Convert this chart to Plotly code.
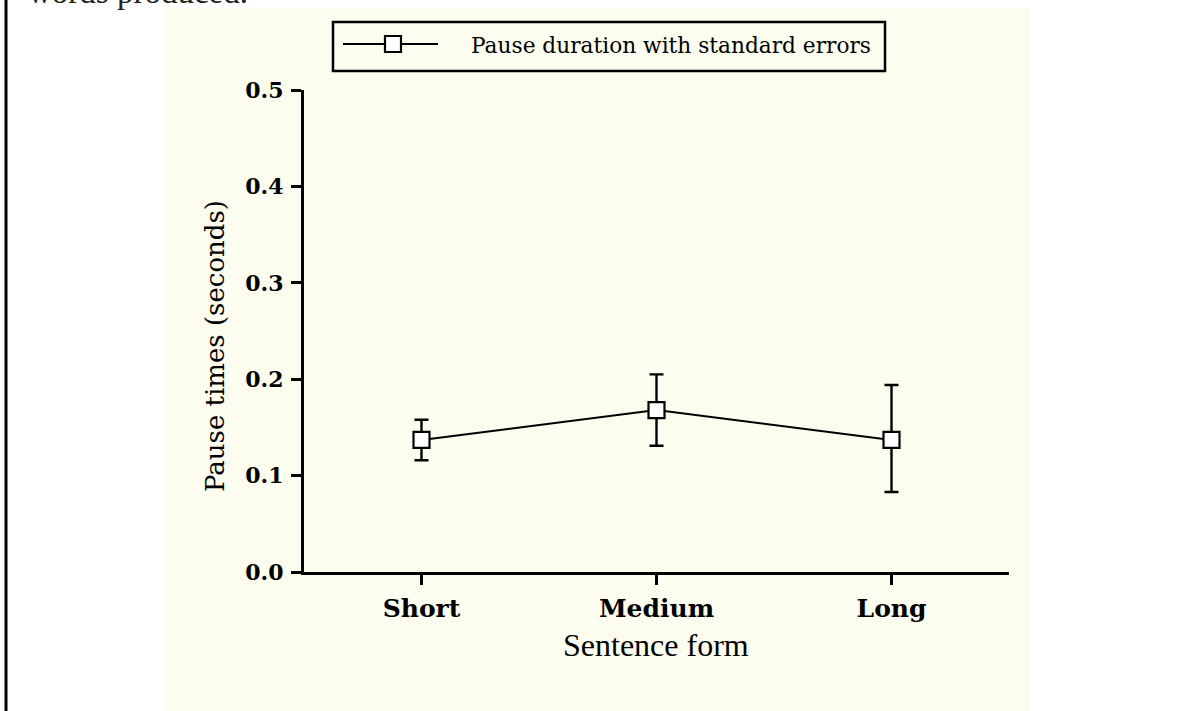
import plotly.graph_objects as go

# ---- data ----
categories = ["Short", "Medium", "Long"]
pause_mean = [0.137, 0.168, 0.137]
err_plus = [0.021, 0.037, 0.057]
err_minus = [0.021, 0.037, 0.054]
y_ticks = [0.0, 0.1, 0.2, 0.3, 0.4, 0.5]
legend_label = "Pause duration with standard errors"

W, H = 1180, 711
L, R, T, B = 304, 1009, 90, 572  # plot area in pixels
PW, PH = R - L, B - T

def px(x):
    return (x - L) / PW

def py(y):
    return (B - y) / PH

PANEL = "#FCFDEF"
SERIF = "DejaVu Serif"

fig = go.Figure()
fig.add_trace(go.Scatter(
    x=list(range(len(categories))),
    y=pause_mean,
    mode="lines+markers",
    line=dict(color="black", width=2),
    marker=dict(symbol="square", size=16, color="white",
                line=dict(color="black", width=2.2)),
    error_y=dict(type="data", array=err_plus, arrayminus=err_minus,
                 color="black", thickness=2.4, width=7),
    showlegend=False,
))

shapes = [
    # panel background
    dict(type="rect", xref="paper", yref="paper", x0=px(165), x1=px(1030),
         y0=py(8), y1=py(720), fillcolor=PANEL, line=dict(width=0), layer="below"),
    # page border line at left
    dict(type="line", xref="paper", yref="paper", x0=px(6), x1=px(6),
         y0=py(-5), y1=py(720), line=dict(color="black", width=3)),
    # legend box
    dict(type="rect", xref="paper", yref="paper", x0=px(333), x1=px(885),
         y0=py(22), y1=py(71), line=dict(color="black", width=2.5), fillcolor=PANEL),
    dict(type="line", xref="paper", yref="paper", x0=px(343), x1=px(438),
         y0=py(44), y1=py(44), line=dict(color="black", width=2)),
    dict(type="rect", xref="paper", yref="paper", x0=px(385), x1=px(401),
         y0=py(36), y1=py(52), line=dict(color="black", width=2.2), fillcolor="white"),
]

annotations = [
    dict(text=legend_label, xref="paper", yref="paper", x=px(469), y=py(45),
         xanchor="left", yanchor="middle", showarrow=False,
         font=dict(family=SERIF, size=21.7, color="black")),
    dict(text="Sentence form", xref="paper", yref="paper", x=px(656), y=py(645),
         xanchor="center", yanchor="middle", showarrow=False,
         font=dict(family="Liberation Serif", size=32, color="black")),
    dict(text="Pause times (seconds)", xref="paper", yref="paper", x=px(215), y=py(346),
         xanchor="center", yanchor="middle", showarrow=False, textangle=-90,
         font=dict(family=SERIF, size=26, color="black")),
    dict(text="words produced.", xref="paper", yref="paper", x=px(26), y=py(-8.5),
         xanchor="left", yanchor="middle", showarrow=False,
         font=dict(family="Liberation Serif", size=33, color="#222")),
]

fig.update_layout(
    width=W, height=H,
    margin=dict(l=L, r=W - R, t=T, b=H - B, pad=0),
    paper_bgcolor="white",
    plot_bgcolor="rgba(0,0,0,0)",
    shapes=shapes,
    annotations=annotations,
    xaxis=dict(
        range=[-0.5, 2.5], tickmode="array", tickvals=list(range(len(categories))),
        ticktext=categories, showgrid=False, zeroline=False,
        showline=True, linecolor="black", linewidth=3,
        ticks="outside", ticklen=10, tickwidth=2.5, tickcolor="black",
        ticklabelstandoff=2,
        tickfont=dict(family=SERIF, size=25, color="black", weight="bold"),
    ),
    yaxis=dict(
        range=[0, 0.5], tickmode="array", tickvals=y_ticks,
        ticktext=[f"{v:.1f}" for v in y_ticks], showgrid=False, zeroline=False,
        showline=True, linecolor="black", linewidth=3,
        ticks="outside", ticklen=10, tickwidth=2.5, tickcolor="black",
        ticklabelstandoff=3,
        tickfont=dict(family=SERIF, size=22, color="black", weight="bold"),
    ),
)

fig.write_html("out.html", config={"displayModeBar": False},
               post_script="document.body.style.margin='0';")
